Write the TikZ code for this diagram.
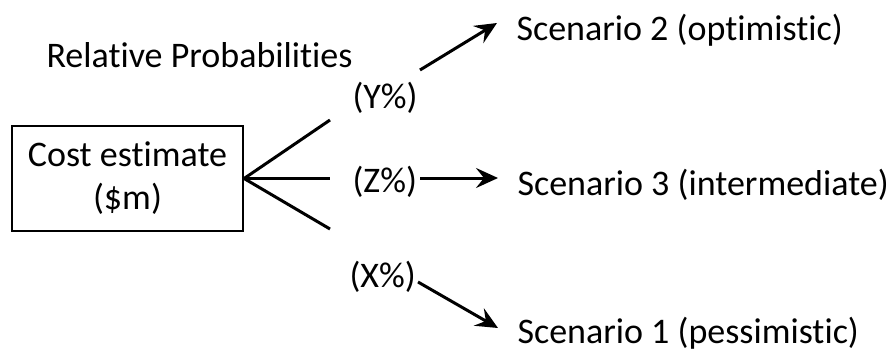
\documentclass[tikz,border=0pt]{standalone}
\usepackage{fontspec}
\setmainfont{Carlito}[Ligatures=NoCommon]
\usetikzlibrary{arrows.meta}
\tikzset{>={Stealth[length=22pt,width=20pt,inset=8pt]}}
\tikzset{lbl/.style={inner sep=0pt, anchor=base west,
    font=\fontsize{36}{43}\selectfont}}

\begin{document}
\begin{tikzpicture}[x=1pt,y=-1pt,line width=3pt]

  \useasboundingbox (0,0) rectangle (891,351); %% page size

  %% root box
  \node[draw, line width=2.2pt, minimum width=231pt, minimum height=105pt,
    inner sep=0pt, align=center, font=\fontsize{36}{43}\selectfont]
    (cost) at (127.5,178.5) {Cost estimate\\(\$m)};

  \node[lbl] (relprob) at (45,67) {Relative Probabilities};

  %% probabilities
  \node[lbl] (yprob) at (351,108) {(Y\%)};
  \node[lbl] (zprob) at (351,192) {(Z\%)};
  \node[lbl] (xprob) at (348,287) {(X\%)};

  %% outcomes
  \node[lbl] (scen2) at (515,40)  {Scenario 2 (optimistic)};
  \node[lbl] (scen3) at (516,195) {Scenario 3 (intermediate)};
  \node[lbl] (scen1) at (516,343) {Scenario 1 (pessimistic)};

  \coordinate (ytip) at (330,120);
  \coordinate (ztip) at (330,178.5);
  \coordinate (xtip) at (330,229);

  \draw (cost.east) -- (ytip);
  \draw (cost.east) -- (ztip);
  \draw (cost.east) -- (xtip);

  \coordinate (yout) at (420,70);
  \coordinate (yin)  at (497,23);
  \coordinate (zout) at (420,178);
  \coordinate (zin)  at (498,178);
  \coordinate (xout) at (418,282);
  \coordinate (xin)  at (498,328);

  \draw[->] (yout) -- (yin);
  \draw[->] (zout) -- (zin);
  \draw[->] (xout) -- (xin);

\end{tikzpicture}
\end{document}
